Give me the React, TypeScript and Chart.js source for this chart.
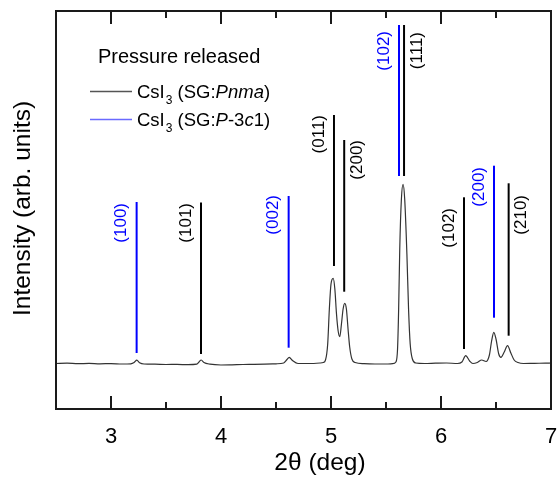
import { useEffect, useRef } from "react";
import { Chart, registerables } from "chart.js";

Chart.register(...registerables);

// Measured diffraction pattern (2θ in degrees, intensity in arbitrary units)
const twoTheta = [
  2.5, 2.6, 2.7, 2.8, 2.9, 3.0, 3.1, 3.18, 3.21, 3.235, 3.26, 3.3, 3.4, 3.5, 3.6, 3.7, 3.78, 3.8, 3.82, 3.845,
  3.9, 4.0, 4.1, 4.2, 4.3, 4.4, 4.5, 4.57, 4.6, 4.62, 4.65, 4.7, 4.8, 4.9, 4.93, 4.95, 4.97, 4.985, 5.0, 5.02,
  5.035, 5.05, 5.065, 5.08, 5.095, 5.11, 5.125, 5.14, 5.155, 5.17, 5.19, 5.22, 5.3, 5.4, 5.5, 5.56, 5.59, 5.605,
  5.615, 5.625, 5.64, 5.655, 5.67, 5.69, 5.705, 5.72, 5.74, 5.77, 5.85, 5.95, 6.05, 6.15, 6.19, 6.225, 6.26,
  6.29, 6.33, 6.37, 6.41, 6.44, 6.46, 6.48, 6.5, 6.525, 6.545, 6.575, 6.605, 6.635, 6.665, 6.7, 6.75, 6.85,
  6.95, 7.0,
];
const intensity = [
  45.5, 45.8, 45.3, 45.6, 45.2, 45.4, 45.0, 45.2, 46.5, 48.8, 46.3, 45.0, 44.8, 44.5, 44.6, 44.3, 44.8, 47.0, 49.0, 46.5,
  44.8, 44.0, 44.2, 44.5, 44.6, 44.8, 45.2, 46.0, 49.5, 51.7, 48.5, 45.5, 45.5, 46.0, 46.5, 49, 65, 100, 125, 130.7,
  120, 95, 78, 72.3, 85, 100, 105.7, 100, 80, 62, 50, 46.5, 45.3, 45.0, 45.0, 45.3, 47, 60,
  100, 160, 210, 224.7, 210, 155, 100, 65, 50, 46, 45.5, 45.8, 46, 45.5, 47, 53.3, 48,
  45.5, 46.5, 49, 47.5, 54, 68, 76.7, 70, 55, 51.7, 57, 63.3, 56, 49, 46.5, 45.5, 45.7,
  45.8, 46,
];

// Reflection markers
const reflPos = [3.233, 3.818, 4.615, 5.027, 5.12, 5.618, 5.664, 6.209, 6.482, 6.615];
const reflPhase = ["P-3c1", "Pnma", "P-3c1", "Pnma", "Pnma", "P-3c1", "Pnma", "Pnma", "P-3c1", "Pnma"];
const reflHkl = ["(100)", "(101)", "(002)", "(011)", "(200)", "(102)", "(111)", "(102)", "(200)", "(210)"];
const reflTop = [207, 206.5, 213, 294, 269, 384, 384, 211.7, 243.3, 225.7];
const reflBottom = [56, 55, 61.3, 143, 117.3, 233, 233, 60, 91.3, 73.3];
const labelSide = ["left", "left", "left", "left", "right", "left", "right", "left", "left", "right"];
const labelTop = [206, 206, 214, 294, 269, 378, 377, 201, 242, 214];

const xMin = 2.5;
const xMax = 7;
const yMin = 0;
const yMax = 398;

const FONT = '"Liberation Sans", Arial, Helvetica, sans-serif';
const BLUE = "#0000ff";
const BLACK = "#000000";

const phaseColor = (p: string) => (p === "Pnma" ? BLACK : BLUE);

const decorPlugin = {
  id: "decor",
  afterDatasetsDraw(chart: any) {
    const { ctx, chartArea: a, scales } = chart;
    const x = scales.x;
    const y = scales.y;
    ctx.save();

    // hkl labels
    ctx.font = `17px ${FONT}`;
    reflHkl.forEach((t, i) => {
      const px = x.getPixelForValue(reflPos[i]);
      const py = y.getPixelForValue(labelTop[i]);
      const cx = labelSide[i] === "left" ? px - 15 : px + 13;
      ctx.save();
      ctx.translate(cx, py);
      ctx.rotate(-Math.PI / 2);
      ctx.textAlign = "right";
      ctx.textBaseline = "middle";
      ctx.fillStyle = phaseColor(reflPhase[i]);
      ctx.fillText(t, 0, 0);
      ctx.restore();
    });

    // frame
    ctx.strokeStyle = "#1a1a1a";
    ctx.lineWidth = 2;
    ctx.strokeRect(a.left, a.top, a.right - a.left, a.bottom - a.top);

    // inward ticks top & bottom
    x.ticks.forEach((t: any) => {
      const px = Math.round(x.getPixelForValue(t.value));
      if (px <= a.left + 1 || px >= a.right - 1) return;
      const len = Number.isInteger(t.value) ? 13 : 7;
      ctx.beginPath();
      ctx.moveTo(px, a.bottom);
      ctx.lineTo(px, a.bottom - len);
      ctx.moveTo(px, a.top);
      ctx.lineTo(px, a.top + len);
      ctx.stroke();
    });

    // axis titles
    ctx.fillStyle = "#000";
    ctx.font = `24.5px ${FONT}`;
    ctx.textAlign = "center";
    ctx.textBaseline = "alphabetic";
    ctx.fillText("2\u03b8 (deg)", 320, 470);

    ctx.save();
    ctx.translate(29.5, 316);
    ctx.rotate(-Math.PI / 2);
    ctx.font = `24.5px ${FONT}`;
    ctx.textAlign = "left";
    ctx.fillText("Intensity (arb. units)", 0, 0);
    ctx.restore();

    // legend
    ctx.textAlign = "left";
    ctx.font = `20px ${FONT}`;
    ctx.fillText("Pressure released", 98, 63);

    const rows = [
      { color: "#555555", y: 91, runs: [["P", "i"], ["nma", "i"], [")", "n"]] },
      { color: "#6a6aff", y: 119, runs: [["P", "i"], ["-3", "n"], ["c", "i"], ["1)", "n"]] },
    ];
    rows.forEach((r) => {
      ctx.strokeStyle = r.color;
      ctx.lineWidth = 1.3;
      ctx.beginPath();
      ctx.moveTo(90, r.y + 0.5);
      ctx.lineTo(132, r.y + 0.5);
      ctx.stroke();
      let cx = 137;
      const base = r.y + 7;
      const all: string[][] = [["CsI", "n"], ["3", "sub"], [" (SG:", "n"], ...r.runs];
      all.forEach(([s, k]) => {
        if (k === "sub") {
          ctx.font = `12px ${FONT}`;
          ctx.fillText(s, cx + 1, base + 6);
          cx += ctx.measureText(s).width + 1;
        } else {
          ctx.font = k === "i" ? `italic 18.5px ${FONT}` : `18.5px ${FONT}`;
          ctx.fillText(s, cx, base);
          cx += ctx.measureText(s).width;
        }
      });
    });

    ctx.restore();
  },
};

export default function App() {
  const ref = useRef<HTMLCanvasElement | null>(null);

  useEffect(() => {
    document.body.style.margin = "0";
    const canvas = ref.current;
    if (!canvas) return;

    const datasets: any[] = [
      {
        data: twoTheta.map((v, i) => ({ x: v, y: intensity[i] })),
        borderColor: "#333333",
        borderWidth: 1.2,
        pointRadius: 0,
        showLine: true,
        cubicInterpolationMode: "monotone",
        order: 2,
      },
    ];
    reflPos.forEach((p, i) => {
      datasets.push({
        data: [
          { x: p, y: reflBottom[i] },
          { x: p, y: reflTop[i] },
        ],
        borderColor: phaseColor(reflPhase[i]),
        borderWidth: 2,
        pointRadius: 0,
        showLine: true,
        order: 1,
      });
    });

    const chart = new Chart(canvas, {
      type: "scatter",
      data: { datasets },
      options: {
        responsive: false,
        animation: false,
        devicePixelRatio: 1,
        layout: { padding: { left: 56, right: 6, top: 11, bottom: 0 } },
        plugins: { legend: { display: false }, tooltip: { enabled: false } },
        scales: {
          x: {
            type: "linear",
            min: xMin,
            max: xMax,
            grid: { display: false, drawTicks: false },
            border: { display: false },
            ticks: {
              stepSize: 0.5,
              autoSkip: false,
              maxRotation: 0,
              padding: 15,
              color: "#000",
              font: { family: FONT, size: 22 },
              callback: (v: any) => (Number.isInteger(v) ? String(v) : ""),
            },
            afterFit: (s: any) => {
              s.height = 68;
              s.paddingLeft = 0;
              s.paddingRight = 0;
            },
          },
          y: {
            type: "linear",
            display: false,
            min: yMin,
            max: yMax,
          },
        },
      },
      plugins: [decorPlugin],
    });

    return () => chart.destroy();
  }, []);

  return <canvas ref={ref} width={557} height={477} style={{ display: "block" }} />;
}
